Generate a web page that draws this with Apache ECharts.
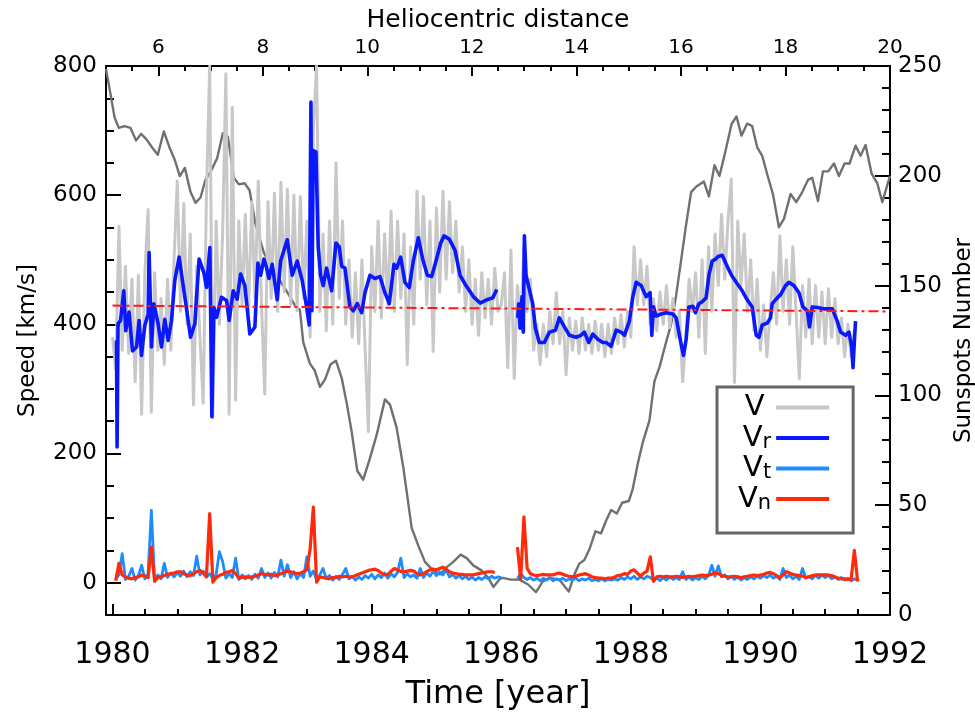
<!DOCTYPE html>
<html>
<head>
<meta charset="utf-8">
<script src="https://cdn.jsdelivr.net/npm/echarts@6/dist/echarts.min.js"></script>
<style>
  html, body { margin: 0; padding: 0; background: #fff; }
  #chart { width: 975px; height: 719px; }
</style>
</head>
<body>
<div id="chart"></div>
<script>
// ---- tick labels -------------------------------------------------------
const YEAR_MAJOR = [1980, 1982, 1984, 1986, 1988, 1990, 1992];
const YEAR_MINOR = [1980.5, 1981, 1981.5, 1982.5, 1983, 1983.5, 1984.5, 1985, 1985.5,
  1986.5, 1987, 1987.5, 1988.5, 1989, 1989.5, 1990.5, 1991, 1991.5];
const DIST_MAJOR = [6, 8, 10, 12, 14, 16, 18, 20];
const SPEED_MAJOR = [0, 200, 400, 600, 800];
const SSN_MAJOR = [0, 50, 100, 150, 200, 250];

// ---- monthly sunspot number [year, value] -------------------------------
const SUNSPOTS = [
  [1979.9,248.7],[1979.969,237.3],[1980.031,226.7],[1980.097,221.8],[1980.185,222.6],[1980.278,221.8],
  [1980.364,216.1],[1980.442,219.1],[1980.525,216.6],[1980.612,212.9],[1980.700,209.6],[1980.792,220.2],
  [1980.880,212.9],[1980.962,207.2],[1981.039,199.9],[1981.117,203.6],[1981.205,192.6],[1981.282,187.7],
  [1981.359,190.1],[1981.436,198.3],[1981.523,202.3],[1981.615,208.0],[1981.703,219.4],[1981.781,217.8],
  [1981.873,199.1],[1981.951,196.1],[1982.039,196.6],[1982.116,193.4],[1982.208,177.9],[1982.337,164.9],
  [1982.507,156.0],[1982.697,147.0],[1982.815,141.0],[1982.893,138.9],[1982.944,124.3],[1983.047,114.5],
  [1983.124,111.2],[1983.202,103.9],[1983.279,107.2],[1983.367,114.2],[1983.449,115.8],[1983.537,108.0],
  [1983.614,96.6],[1983.691,83.6],[1983.778,65.7],[1983.870,61.6],[1983.974,71.4],[1984.077,82.0],
  [1984.205,98.2],[1984.283,95.8],[1984.386,85.2],[1984.488,67.3],[1984.618,39.7],[1984.720,31.6],
  [1984.823,24.2],[1984.951,20.2],[1985.055,18.5],[1985.158,21.8],[1985.260,24.2],[1985.374,27.5],
  [1985.467,25.9],[1985.569,22.6],[1985.699,20.2],[1985.801,16.9],[1985.878,12.8],[1985.981,16.5],
  [1986.023,16.9],[1986.151,16.1],[1986.280,16.1],[1986.409,14.0],[1986.537,10.4],[1986.641,15.3],
  [1986.743,16.9],[1986.897,16.1],[1987.042,10.7],[1987.129,18.5],[1987.206,23.4],[1987.283,25.0],
  [1987.361,29.9],[1987.453,38.1],[1987.541,37.2],[1987.618,42.9],[1987.696,47.8],[1987.784,46.2],
  [1987.866,51.1],[1987.969,51.9],[1988.031,57.6],[1988.108,69.0],[1988.185,78.7],[1988.287,88.5],
  [1988.364,106.4],[1988.442,112.9],[1988.545,124.3],[1988.622,132.4],[1988.699,145.4],[1988.777,161.7],
  [1988.854,177.9],[1988.931,192.6],[1989.008,195.0],[1989.127,197.4],[1989.205,190.6],[1989.291,204.8],
  [1989.368,199.9],[1989.461,211.3],[1989.554,223.5],[1989.631,227.0],[1989.708,218.3],[1989.796,223.8],
  [1989.873,222.6],[1989.951,212.9],[1990.028,209.1],[1990.105,200.7],[1990.193,191.7],[1990.286,176.6],
  [1990.363,180.4],[1990.465,191.7],[1990.553,188.0],[1990.646,192.6],[1990.738,198.3],[1990.800,199.1],
  [1990.888,188.5],[1990.965,202.0],[1991.047,202.0],[1991.135,205.6],[1991.212,199.9],[1991.299,205.6],
  [1991.376,205.6],[1991.469,213.7],[1991.546,209.1],[1991.623,214.0],[1991.716,201.0],[1991.804,196.6],
  [1991.881,188.0],[1992.0,200.0]
];

// ---- speed samples, one every 0.05 yr from 1980.0 ------------------------
const SAMPLE_START = 1980.0;
const SAMPLE_STEP = 0.05;

// total speed V (km/s)
const V_TOTAL = [
  380,330,552,360,490,355,470,311,476,261,
  479,578,264,480,360,440,338,470,360,500,
  622,420,587,400,540,275,490,380,278,598,
  800,255,560,400,540,788,261,736,283,560,
  430,570,420,590,440,622,430,292,590,440,
  603,420,620,450,609,430,600,421,598,440,
  560,380,700,800,420,540,390,560,400,650,
  440,560,400,500,380,480,370,500,360,234,
  520,420,560,410,540,430,575,420,560,440,
  540,338,520,400,606,470,598,430,560,358,
  580,450,606,470,590,480,560,450,520,420,
  500,400,470,383,480,410,470,400,487,420,
  430,480,333,515,316,460,400,520,420,470,
  360,400,338,400,350,420,370,449,370,420,
  322,410,360,405,355,410,360,400,355,405,
  360,400,350,400,355,410,370,415,365,420,
  380,520,430,500,430,490,400,440,390,450,
  400,460,395,440,380,420,311,380,470,420,
  480,380,500,355,520,420,540,460,570,470,
  560,625,310,560,460,540,420,500,390,470,
  360,430,350,420,480,400,537,420,500,400,
  520,420,316,460,380,470,370,460,380,450,
  370,455,380,440,370,410,350,400,350,390
];

// tangential component Vt (km/s)
const V_T = [
  null,
  6,12,45,5,10,22,4,11,27,6,
  14,112,5,12,6,30,8,15,9,16,
  10,18,9,17,11,41,12,18,9,14,
  6,13,48,33,7,14,8,38,5,12,
  6,11,5,13,7,22,8,15,7,16,
  9,35,10,28,8,17,6,14,8,40,
  10,18,5,12,22,6,11,4,10,5,
  13,22,6,10,4,9,5,11,7,13,
  6,12,8,15,7,14,9,16,38,8,
  14,9,12,7,22,8,15,10,18,11,
  17,12,20,9,13,7,11,6,10,5,
  9,4,8,5,9,6,10,7,9,8,
  null,null,null,null,
  6,15,8,5,8,4,
  7,3,7,4,8,3,6,4,7,3,
  6,4,7,3,6,4,7,3,5,3,
  6,3,5,4,6,4,8,5,9,6,
  10,5,9,6,10,8,4,7,3,8,
  4,9,5,8,5,17,5,9,4,8,
  5,10,6,11,27,10,26,9,12,6,
  10,5,9,4,8,5,9,6,10,7,
  11,8,12,7,10,5,22,8,12,6,
  10,5,22,7,10,6,11,7,12,8,
  11,6,9,5,8,4,7,3,6,4
];

// normal component Vn (km/s)
const V_N = [
  null,
  3,30,12,9,7,6,8,9,12,10,
  8,55,2,8,9,11,13,14,15,17,
  17,14,12,11,14,17,19,15,9,107,
  1,8,11,13,16,17,19,14,7,8,
  9,8,9,10,12,14,13,12,13,11,
  12,14,16,18,17,15,14,15,17,20,
  52,117,1,9,8,7,6,8,8,10,
  9,10,9,9,11,13,15,17,19,20,
  21,19,15,12,13,18,22,20,17,17,
  18,19,18,14,12,14,17,20,21,20,
  22,24,21,17,15,14,13,13,12,12,
  12,13,14,15,16,17,17,16,
  null,null,null,null,null,null,
  55,5,102,22,14,12,
  11,12,13,12,12,12,14,15,13,11,
  10,9,10,12,13,14,12,9,8,7,
  7,6,7,7,9,11,12,14,13,18,
  20,15,10,15,18,40,2,9,10,9,
  10,9,9,10,9,8,9,10,9,10,
  11,12,11,12,13,15,14,11,10,9,
  9,10,9,8,9,10,11,12,11,12,
  13,15,16,14,11,8,12,17,15,13,
  12,11,10,8,9,11,12,12,12,12,
  12,11,9,7,6,6,5,5,50,2
];

// radial component Vr (km/s), running mean [year, value]
const V_R = [
  [1980.062,375],[1980.071,210],[1980.086,401],[1980.124,406],[1980.175,452],[1980.205,390],
  [1980.256,419],[1980.309,359],[1980.371,365],[1980.411,406],[1980.448,352],[1980.499,398],
  [1980.550,416],[1980.565,511],[1980.602,365],[1980.638,432],[1980.704,401],[1980.757,365],
  [1980.808,408],[1980.859,375],[1980.911,406],[1980.962,468],[1981.029,504],[1981.117,442],
  [1981.205,380],[1981.271,401],[1981.337,501],[1981.410,480],[1981.452,457],[1981.503,519],
  [1981.534,257],[1981.564,426],[1981.606,411],[1981.683,442],[1981.761,437],[1981.801,406],
  [1981.863,452],[1981.924,439],[1981.977,478],[1982.043,460],[1982.120,385],[1982.198,396],
  [1982.244,495],[1982.286,476],[1982.337,501],[1982.378,488],[1982.414,471],[1982.465,493],
  [1982.542,438],[1982.595,498],[1982.697,531],[1982.774,476],[1982.851,498],[1982.928,468],
  [1982.996,427],[1983.036,399],[1983.063,744],[1983.078,421],[1983.098,669],[1983.140,667],
  [1983.175,520],[1983.212,476],[1983.252,460],[1983.305,487],[1983.382,452],[1983.449,526],
  [1983.500,520],[1983.537,490],[1983.588,487],[1983.665,427],[1983.716,421],[1983.778,432],
  [1983.846,418],[1983.897,449],[1983.974,476],[1984.051,471],[1984.128,474],[1984.205,449],
  [1984.272,432],[1984.344,493],[1984.386,487],[1984.448,504],[1984.514,465],[1984.581,457],
  [1984.643,498],[1984.720,534],[1984.788,501],[1984.859,476],[1984.927,474],[1984.993,498],
  [1985.066,526],[1985.117,537],[1985.198,532],[1985.286,515],[1985.364,476],[1985.456,460],
  [1985.569,443],[1985.673,433],[1985.776,438],[1985.869,441],[1985.931,454],
  [1986.1,null],
  [1986.255,410],[1986.270,432],[1986.290,394],[1986.321,443],[1986.341,388],[1986.357,537],
  [1986.383,476],[1986.409,476],[1986.445,449],[1986.486,432],[1986.527,394],[1986.588,372],
  [1986.666,372],[1986.743,388],[1986.836,391],[1986.897,410],[1986.975,396],[1987.052,383],
  [1987.155,380],[1987.232,383],[1987.283,388],[1987.351,372],[1987.413,385],[1987.490,377],
  [1987.568,372],[1987.618,372],[1987.696,366],[1987.773,391],[1987.850,388],[1987.901,383],
  [1987.978,405],[1988.031,443],[1988.082,465],[1988.159,460],[1988.236,443],[1988.298,449],
  [1988.324,383],[1988.349,427],[1988.391,413],[1988.468,416],[1988.545,418],[1988.649,416],
  [1988.700,410],[1988.761,377],[1988.812,352],[1988.854,377],[1988.896,427],[1988.958,428],
  [1988.998,418],[1989.050,432],[1989.101,435],[1989.162,441],[1989.205,476],[1989.256,498],
  [1989.307,501],[1989.348,505],[1989.410,507],[1989.487,490],[1989.554,476],[1989.642,463],
  [1989.719,452],[1989.796,438],[1989.873,427],[1989.935,383],[1989.977,380],[1990.028,399],
  [1990.105,402],[1990.156,410],[1990.182,432],[1990.260,441],[1990.311,446],[1990.388,460],
  [1990.440,465],[1990.517,460],[1990.595,449],[1990.656,427],[1990.723,421],[1990.758,396],
  [1990.800,427],[1990.877,426],[1990.981,424],[1991.109,424],[1991.186,405],[1991.237,388],
  [1991.314,383],[1991.367,388],[1991.407,366],[1991.429,333],[1991.449,372],[1991.468,405]
];

// mean solar wind speed trend (dash-dot)
const MEAN_YEARS = [1980.0, 1992.0];
const MEAN_SPEED = [429, 420];

// ---- build series data ----------------------------------------------------
const sampled = arr => arr.map((v, i) => [+(SAMPLE_START + i * SAMPLE_STEP).toFixed(3), v]);
const meanLine = MEAN_YEARS.map((y, i) => [y, MEAN_SPEED[i]]);

const FONT = "'DejaVu Sans', sans-serif";
const BLACK = '#000';
const axisLineStyle = { show: true, onZero: false, lineStyle: { color: BLACK, width: 2 } };
const noLine = { show: false, onZero: false };
const plain = v => String(v);

const chart = echarts.init(document.getElementById('chart'), null, { renderer: 'canvas' });

chart.setOption({
  animation: false,
  backgroundColor: '#fff',
  textStyle: { fontFamily: FONT, color: BLACK },
  grid: { left: 106, right: 85, top: 66, bottom: 104, containLabel: false, outerBoundsMode: 'none' },
  xAxis: [
    {
      type: 'value', position: 'bottom', min: 1979.9, max: 1992,
      axisLine: axisLineStyle, splitLine: { show: false },
      axisTick: { inside: true, length: 11, lineStyle: { color: BLACK, width: 2 }, customValues: YEAR_MAJOR },
      axisLabel: { customValues: YEAR_MAJOR, formatter: plain, fontSize: 30, margin: 25, color: BLACK, fontFamily: FONT },
      name: 'Time [year]', nameLocation: 'middle', nameGap: 64,
      nameTextStyle: { fontSize: 32, color: BLACK, fontFamily: FONT }
    },
    {
      type: 'value', position: 'bottom', min: 1979.9, max: 1992,
      axisLine: noLine, splitLine: { show: false },
      axisTick: { inside: true, length: 6, lineStyle: { color: BLACK, width: 2 }, customValues: YEAR_MINOR },
      axisLabel: { show: false }
    },
    {
      type: 'value', position: 'top', min: 5, max: 20,
      axisLine: axisLineStyle, splitLine: { show: false },
      axisTick: { inside: true, length: 10, lineStyle: { color: BLACK, width: 2 }, customValues: DIST_MAJOR },
      axisLabel: { customValues: DIST_MAJOR, formatter: plain, fontSize: 20, margin: 8, color: BLACK, fontFamily: FONT },
      name: 'Heliocentric distance', nameLocation: 'middle', nameGap: 26,
      nameTextStyle: { fontSize: 25, color: BLACK, fontFamily: FONT }
    },
    {
      type: 'value', position: 'top', min: 5, max: 20, interval: 0.5,
      axisLine: noLine, splitLine: { show: false },
      axisTick: { inside: true, length: 5, lineStyle: { color: BLACK, width: 2 } },
      axisLabel: { show: false }
    }
  ],
  yAxis: [
    {
      type: 'value', position: 'left', min: -50, max: 800,
      axisLine: axisLineStyle, splitLine: { show: false },
      axisTick: { inside: true, length: 15, lineStyle: { color: BLACK, width: 2 }, customValues: SPEED_MAJOR },
      axisLabel: { customValues: SPEED_MAJOR, formatter: plain, fontSize: 23, margin: 9, color: BLACK, fontFamily: FONT },
      name: 'Speed [km/s]', nameLocation: 'middle', nameGap: 66, nameRotate: 90,
      nameTextStyle: { fontSize: 23, color: BLACK, fontFamily: FONT }
    },
    {
      type: 'value', position: 'left', min: -50, max: 800, interval: 50,
      axisLine: noLine, splitLine: { show: false },
      axisTick: { inside: true, length: 8, lineStyle: { color: BLACK, width: 2 } },
      axisLabel: { show: false }
    },
    {
      type: 'value', position: 'right', min: 0, max: 250,
      axisLine: axisLineStyle, splitLine: { show: false },
      axisTick: { inside: true, length: 15, lineStyle: { color: BLACK, width: 2 }, customValues: SSN_MAJOR },
      axisLabel: { customValues: SSN_MAJOR, formatter: plain, fontSize: 23, margin: 8, color: BLACK, fontFamily: FONT },
      name: 'Sunspots Number', nameLocation: 'middle', nameGap: 58, nameRotate: 90,
      nameTextStyle: { fontSize: 23, color: BLACK, fontFamily: FONT }
    },
    {
      type: 'value', position: 'right', min: 0, max: 250, interval: 10,
      axisLine: noLine, splitLine: { show: false },
      axisTick: { inside: true, length: 8, lineStyle: { color: BLACK, width: 2 } },
      axisLabel: { show: false }
    }
  ],
  legend: {
    orient: 'vertical', left: 717, top: 387,
    data: ['V', 'Vr', 'Vt', 'Vn'],
    selectedMode: false,
    align: 'right', icon: 'rect', itemWidth: 53, itemHeight: 4, itemGap: 1,
    backgroundColor: '#fff', borderColor: '#666', borderWidth: 3,
    padding: [6, 24, 19, 21],
    formatter: name => name === 'V' ? '{v|V}{s| }' : '{v|V}{s|' + name.slice(1) + '}',
    textStyle: {
      width: 38, color: BLACK, fontFamily: FONT,
      rich: {
        v: { fontSize: 29, lineHeight: 30, fontFamily: FONT, color: BLACK, verticalAlign: 'middle' },
        s: { fontSize: 21, lineHeight: 30, fontFamily: FONT, color: BLACK, verticalAlign: 'bottom' }
      }
    }
  },
  series: [
    {
      name: 'Sunspots', type: 'line', yAxisIndex: 2, data: SUNSPOTS,
      symbol: 'none', silent: true, z: 1,
      lineStyle: { color: '#707070', width: 2.4, join: 'round' }, itemStyle: { color: '#707070' }
    },
    {
      name: 'V', type: 'line', data: sampled(V_TOTAL),
      symbol: 'none', silent: true, z: 2,
      lineStyle: { color: '#c8c8c8', width: 3, join: 'round' }, itemStyle: { color: '#c8c8c8' }
    },
    {
      name: 'Vt', type: 'line', data: sampled(V_T), connectNulls: false,
      symbol: 'none', silent: true, z: 3,
      lineStyle: { color: '#1e8cff', width: 2.8, join: 'round' }, itemStyle: { color: '#1e8cff' }
    },
    {
      name: 'Vn', type: 'line', data: sampled(V_N), connectNulls: false,
      symbol: 'none', silent: true, z: 4,
      lineStyle: { color: '#ff2a0a', width: 3.2, join: 'round' }, itemStyle: { color: '#ff2a0a' }
    },
    {
      name: 'Vr', type: 'line', data: V_R, connectNulls: false,
      symbol: 'none', silent: true, z: 5,
      lineStyle: { color: '#0a18ff', width: 3.6, join: 'round' }, itemStyle: { color: '#0a18ff' }
    },
    {
      name: 'Mean', type: 'line', data: meanLine,
      symbol: 'none', silent: true, z: 6,
      lineStyle: { color: '#ff1a1a', width: 2, type: [10, 4, 3, 4] }, itemStyle: { color: '#ff1a1a' }
    }
  ]
});
</script>
</body>
</html>
